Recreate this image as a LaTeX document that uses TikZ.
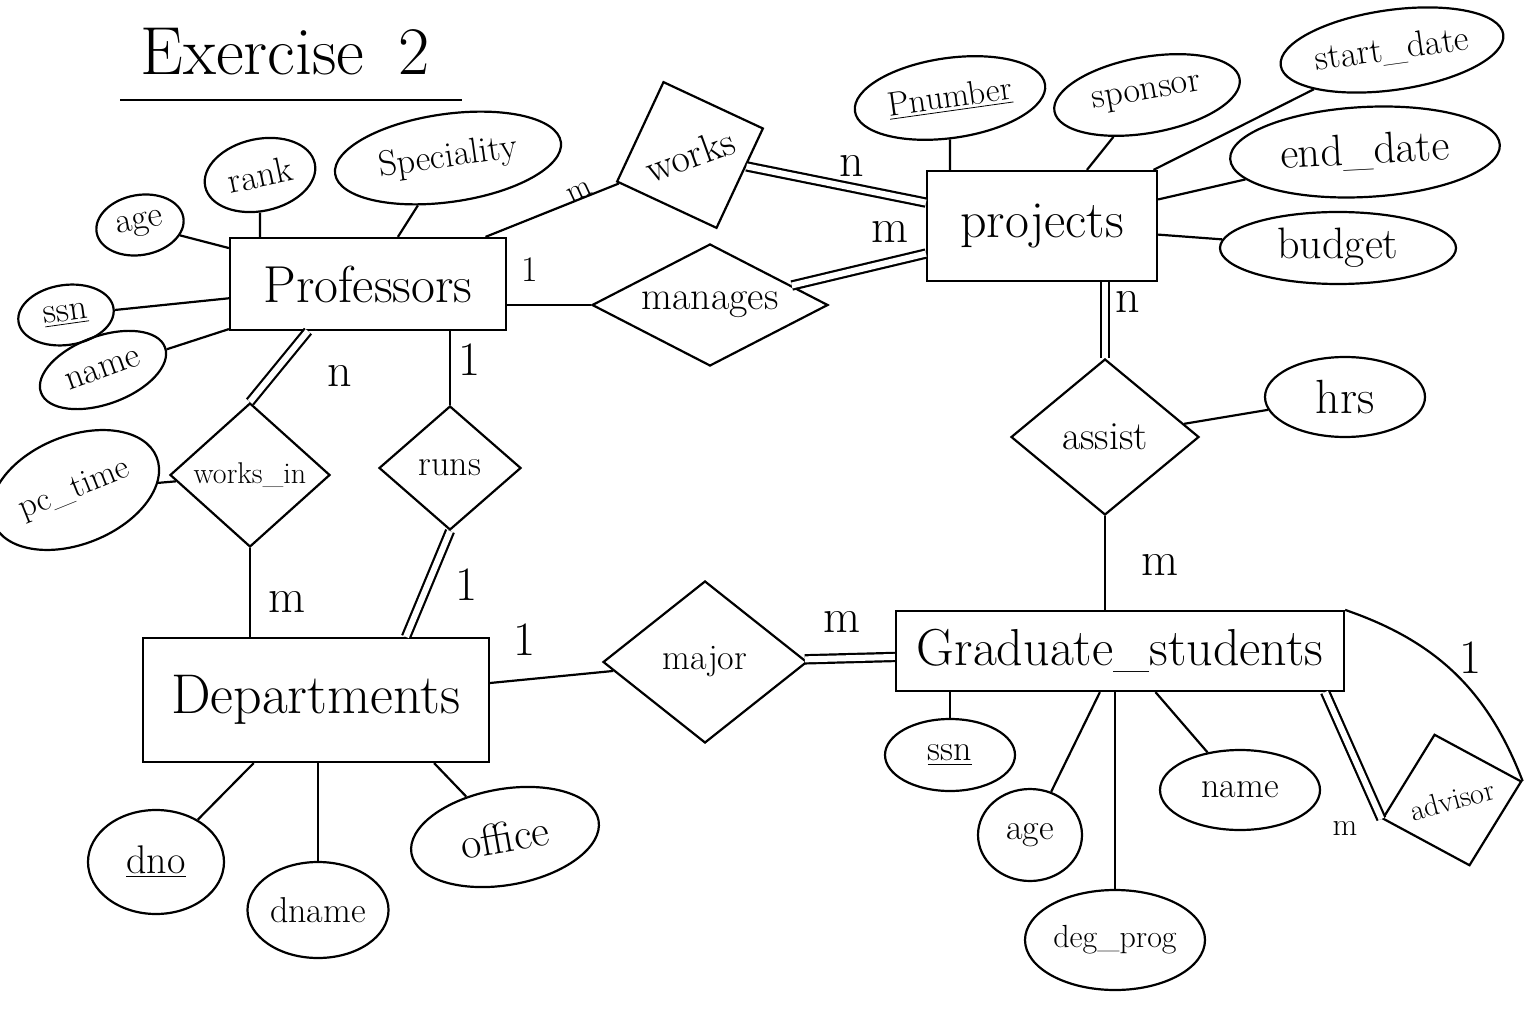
\documentclass[tikz,border=0pt]{standalone}
\usepackage{fontspec}
\usetikzlibrary{shapes.geometric}

\begin{document}
\begin{tikzpicture}[x=0.5pt, y=-0.5pt, line width=1.1pt,
    entity/.style={draw, rectangle, inner sep=2pt, font=\fontsize{26}{30}\selectfont},
    attr/.style={draw, ellipse, inner sep=1pt, font=\fontsize{18}{22}\selectfont},
    rel/.style={draw, diamond, inner sep=0pt, font=\fontsize{18}{22}\selectfont},
    card/.style={inner sep=0pt, font=\fontsize{24}{28}\selectfont},
    dbl/.style={double, double distance=3pt}]
    \useasboundingbox (0,0) rectangle (1534,1015);

    \node[font=\fontsize{34}{40}\selectfont] (title) at (285,52) {Exercise\enspace 2};
    \draw (120,100) -- (462,100);

    % entities
    \node[entity, minimum width=138pt, minimum height=46pt] (prof) at (368,284) {Professors};
    \node[entity, minimum width=115pt, minimum height=55pt] (proj) at (1042,226) {projects};
    \node[entity, minimum width=173pt, minimum height=62pt, font=\fontsize{28}{32}\selectfont] (dept) at (316,700) {Departments};
    \node[entity, minimum width=224pt, minimum height=40pt] (grad) at (1120,651) {Graduate\_students};

    % relationships
    \node[rel, minimum width=78pt, minimum height=78pt, rotate=20, font=\fontsize{20}{24}\selectfont] (works) at (690,155) {works};
    \node[rel, shape aspect=2, minimum width=118pt, minimum height=61pt, font=\fontsize{20}{24}\selectfont] (manages) at (710,305) {manages};
    \node[rel, shape aspect=1.2, minimum width=80pt, minimum height=72pt, font=\fontsize{15}{18}\selectfont] (worksin) at (250,475) {works\_in};
    \node[rel, shape aspect=1.1, minimum width=71pt, minimum height=62pt] (runs) at (450,468) {runs};
    \node[rel, shape aspect=1.2, minimum width=94pt, minimum height=78pt, font=\fontsize{20}{24}\selectfont] (assist) at (1105,437) {assist};
    \node[rel, shape aspect=1.2, minimum width=102pt, minimum height=81pt] (major) at (705,662) {major};
    \node[rel, shape aspect=1.1, minimum width=72pt, minimum height=68pt, rotate=15, font=\fontsize{15}{18}\selectfont] (advisor) at (1452,800) {advisor};

    % attributes
    \node[attr, minimum width=44pt, minimum height=30pt, rotate=10] (ageP) at (140,225) {age};
    \node[attr, minimum width=56pt, minimum height=36pt, rotate=12] (rank) at (260,175) {rank};
    \node[attr, minimum width=114pt, minimum height=44pt, rotate=8] (spec) at (448,158) {Speciality};
    \node[attr, minimum width=48pt, minimum height=30pt, rotate=8] (ssnP) at (66,315) {\underline{ssn}};
    \node[attr, minimum width=66pt, minimum height=34pt, rotate=20] (nameP) at (103,370) {name};
    \node[attr, minimum width=88pt, minimum height=54pt, rotate=22, font=\fontsize{17}{20}\selectfont] (pctime) at (75,490) {pc\_time};
    \node[attr, minimum width=96pt, minimum height=40pt, rotate=8, font=\fontsize{17}{20}\selectfont] (pnum) at (950,98) {\underline{Pnumber}};
    \node[attr, minimum width=94pt, minimum height=38pt, rotate=10] (sponsor) at (1147,95) {sponsor};
    \node[attr, minimum width=108pt, minimum height=40pt, rotate=8] (start) at (1392,50) {start\_date};
    \node[attr, minimum width=135pt, minimum height=45pt, rotate=3, font=\fontsize{22}{26}\selectfont] (endd) at (1365,152) {end\_date};
    \node[attr, minimum width=118pt, minimum height=36pt, font=\fontsize{22}{26}\selectfont] (budget) at (1338,248) {budget};
    \node[attr, minimum width=80pt, minimum height=40pt, font=\fontsize{24}{28}\selectfont] (hrs) at (1345,397) {hrs};
    \node[attr, minimum width=68pt, minimum height=52pt, font=\fontsize{20}{24}\selectfont] (dno) at (156,862) {\underline{dno}};
    \node[attr, minimum width=70pt, minimum height=48pt] (dname) at (318,910) {dname};
    \node[attr, minimum width=95pt, minimum height=48pt, rotate=10, font=\fontsize{22}{26}\selectfont] (office) at (505,837) {office};
    \node[attr, minimum width=65pt, minimum height=36pt] (ssnG) at (950,755) {\underline{ssn}};
    \node[attr, minimum width=52pt, minimum height=46pt] (ageG) at (1030,835) {age};
    \node[attr, minimum width=85pt, minimum height=50pt, font=\fontsize{16}{19}\selectfont] (deg) at (1115,940) {deg\_prog};
    \node[attr, minimum width=80pt, minimum height=40pt] (nameG) at (1240,790) {name};

    % attribute links
    \draw (ageP) -- (prof);
    \draw (ssnP) -- (prof);
    \draw (nameP) -- (prof);
    \draw (rank) -- (rank |- prof.north);
    \draw (spec) -- (prof);
    \draw (pctime) -- (worksin);
    \draw (pnum) -- (pnum |- proj.north);
    \draw (sponsor) -- (proj);
    \draw (start) -- (proj);
    \draw (endd) -- (proj);
    \draw (budget) -- (proj);
    \draw (assist) -- (hrs);
    \draw (dno) -- (dept);
    \draw (dname) -- (dname |- dept.south);
    \draw (office) -- ([xshift=-28pt]dept.south east);
    \draw (ssnG) -- (ssnG |- grad.south);
    \draw (ageG) -- (grad);
    \draw (deg) -- (deg |- grad.south);
    \draw (nameG) -- (grad);

    % relationship links
    \draw (prof) -- (works);
    \draw[dbl] (works) -- (proj);
    \draw (manages.west) -- (manages.west -| prof.east);
    \draw[dbl] (manages) -- (proj);
    \draw[dbl] (worksin.north) -- ([xshift=-30pt]prof.south);
    \draw (runs) -- (runs |- prof.south);
    \draw (worksin.south) -- (worksin.south |- dept.north);
    \draw[dbl] (runs.south) -- ([xshift=45pt]dept.north);
    \draw (dept) -- (major);
    \draw[dbl] (major) -- (grad);
    \draw[dbl] (assist) -- (assist |- proj.south);
    \draw (assist.south) -- (assist.south |- grad.north);
    \draw (grad.north east) to[bend left=25] (advisor.east);
    \draw[dbl] ([xshift=-10pt]grad.south east) -- (advisor.west);

    % cardinalities
    \node[card, font=\fontsize{16}{19}\selectfont, rotate=25] (cPW) at (580,192) {m};
    \node[card] (cWJ) at (852,166) {n};
    \node[card, font=\fontsize{18}{21}\selectfont] (cPM) at (530,270) {1};
    \node[card] (cMJ) at (890,232) {m};
    \node[card] (cPI) at (340,376) {n};
    \node[card] (cPR) at (470,360) {1};
    \node[card] (cID) at (287,602) {m};
    \node[card] (cRD) at (467,585) {1};
    \node[card] (cDM) at (525,640) {1};
    \node[card] (cMG) at (842,622) {m};
    \node[card] (cJA) at (1128,302) {n};
    \node[card] (cAG) at (1160,565) {m};
    \node[card] (cGA1) at (1470,658) {1};
    \node[card, font=\fontsize{16}{19}\selectfont] (cGAm) at (1345,828) {m};
\end{tikzpicture}
\end{document}
